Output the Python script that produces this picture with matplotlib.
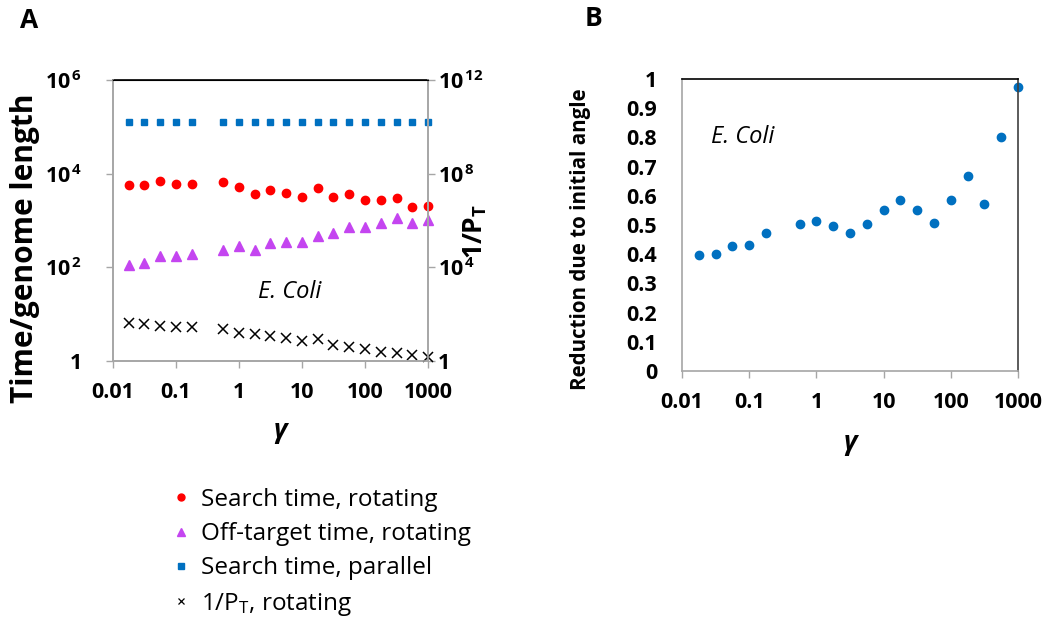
import matplotlib
matplotlib.use("Agg")
import matplotlib.pyplot as plt
from matplotlib.lines import Line2D
from matplotlib.ticker import FixedLocator, NullLocator

plt.rcParams['font.family'] = ['Open Sans', 'DejaVu Sans']
plt.rcParams['mathtext.fontset'] = 'custom'
plt.rcParams['mathtext.rm'] = 'Open Sans'
plt.rcParams['mathtext.bf'] = 'Open Sans:bold'
plt.rcParams['mathtext.it'] = 'Open Sans:italic'

# ---- data ----
gamma = [0.0178, 0.0316, 0.0562, 0.1, 0.178,
         0.562, 1.0, 1.78, 3.16, 5.62, 10.0, 17.8, 31.6, 56.2, 100.0, 178.0, 316.0, 562.0, 1000.0]
search_rot = [5650, 5650, 6980, 6030, 6030,
              6550, 5270, 3680, 4550, 3930, 3180, 4880, 3180, 3680, 2740, 2740, 2980, 1910, 2070]
offtarget_rot = [112, 122, 174, 174, 190,
                 234, 285, 234, 336, 352, 352, 473, 532, 738, 738, 898, 1114, 898, 1024]
search_par = [1.26e5] * 19
inv_pt = [40.8, 37.0, 32.3, 27.5, 27.5,
          23.3, 15.3, 13.8, 11.7, 9.9, 7.4, 8.7, 4.8, 4.1, 3.26, 2.5, 2.13, 1.8, 1.53]
reduction = [0.397, 0.402, 0.427, 0.432, 0.473,
             0.503, 0.512, 0.497, 0.473, 0.503, 0.552, 0.587, 0.552, 0.507, 0.587, 0.667, 0.572, 0.803, 0.971]

x_ticks = [0.01, 0.1, 1, 10, 100, 1000]
x_ticklabels = ['0.01', '0.1', '1', '10', '100', '1000']
left_ticks = [1, 1e2, 1e4, 1e6]
left_ticklabels = ['1', r'$\mathbf{10^{\,2}}$', r'$\mathbf{10^{\,4}}$', r'$\mathbf{10^{\,6}}$']
right_ticks = [1, 1e4, 1e8, 1e12]
right_ticklabels = ['1', r'$\mathbf{10^{\,4}}$', r'$\mathbf{10^{\,8}}$', r'$\mathbf{10^{\,12}}$']
b_yticks = [0, 0.1, 0.2, 0.3, 0.4, 0.5, 0.6, 0.7, 0.8, 0.9, 1.0]
b_yticklabels = ['0', '0.1', '0.2', '0.3', '0.4', '0.5', '0.6', '0.7', '0.8', '0.9', '1']

RED = '#FF0000'
PURPLE = '#C445F0'
BLUE = '#0070C0'
GRAY = '#A6A6A6'

fig = plt.figure(figsize=(10.44, 6.27), dpi=100)

TICK_FS = 15.5

def style_xaxis(ax):
    ax.set_xscale('log')
    ax.set_xlim(0.01, 1000)
    ax.xaxis.set_major_locator(FixedLocator(x_ticks))
    ax.xaxis.set_minor_locator(NullLocator())
    ax.set_xticklabels(x_ticklabels, fontsize=TICK_FS, fontweight='bold')
    ax.tick_params(axis='x', direction='out', length=5, color=GRAY, width=1, pad=10)

# ---- Panel A ----
axA = fig.add_axes([0.1082, 0.4242, 0.3018, 0.4482])
style_xaxis(axA)
axA.set_yscale('log')
axA.set_ylim(1, 1e6)
axA.yaxis.set_major_locator(FixedLocator(left_ticks))
axA.yaxis.set_minor_locator(NullLocator())
axA.set_yticklabels(left_ticklabels, fontsize=TICK_FS, fontweight='bold')
axA.tick_params(axis='y', direction='out', length=5, color=GRAY, width=1, pad=17)
for s in ['left', 'bottom', 'right']:
    axA.spines[s].set_color(GRAY)
    axA.spines[s].set_linewidth(1.2)
axA.spines['top'].set_color('black')
axA.spines['top'].set_linewidth(1.2)

axA.plot(gamma, search_rot, linestyle='none', marker='o', ms=6, color=RED, clip_on=False)
axA.plot(gamma, offtarget_rot, linestyle='none', marker='^', ms=7, color=PURPLE, clip_on=False)
axA.plot(gamma, search_par, linestyle='none', marker='s', ms=5, color=BLUE, clip_on=False)
axA.set_ylabel('Time/genome length', fontsize=21.5, fontweight='bold')
axA.yaxis.set_label_coords(-0.232, 0.40)
axA.set_xlabel('γ', fontsize=19, fontstyle='italic', fontweight='bold')
axA.xaxis.set_label_coords(0.53, -0.20)
axA.text(0.56, 0.245, 'E. Coli', transform=axA.transAxes, fontsize=17, fontstyle='italic',
         ha='center', va='center')

axR = axA.twinx()
axR.set_yscale('log')
axR.set_ylim(1, 1e12)
axR.yaxis.set_major_locator(FixedLocator(right_ticks))
axR.yaxis.set_minor_locator(NullLocator())
axR.set_yticklabels(right_ticklabels, fontsize=TICK_FS, fontweight='bold')
axR.tick_params(axis='y', direction='out', length=5, color=GRAY, width=1, pad=2)
for s in ['left', 'bottom', 'right']:
    axR.spines[s].set_color(GRAY)
    axR.spines[s].set_linewidth(1.2)
axR.spines['top'].set_color('black')
axR.plot(gamma, inv_pt, linestyle='none', marker='x', ms=7, mew=1.1, color='black', clip_on=False)
axR.set_ylabel(r'1/P$_\mathbf{T}$', fontsize=19, fontweight='bold', rotation=90)
axR.yaxis.set_label_coords(1.108, 0.46)

fig.text(20 / 1044, 1 - 20 / 627, 'A', fontsize=19, fontweight='bold', ha='left', va='center')

# legend
handles = [
    Line2D([], [], linestyle='none', marker='o', ms=5, color=RED),
    Line2D([], [], linestyle='none', marker='^', ms=6, color=PURPLE),
    Line2D([], [], linestyle='none', marker='s', ms=5, color=BLUE),
    Line2D([], [], linestyle='none', marker='x', ms=5, mew=0.9, color='black'),
]
labels = ['Search time, rotating', 'Off-target time, rotating', 'Search time, parallel',
          r'1/P$_\mathrm{T}$, rotating']
fig.legend(handles, labels, loc='upper left', bbox_to_anchor=(152 / 1044, 1 - 466 / 627),
           frameon=False, fontsize=17.5, handlelength=0.6, handletextpad=0.5, labelspacing=0.42)

# ---- Panel B ----
axB = fig.add_axes([0.6533, 0.4083, 0.3218, 0.4657])
style_xaxis(axB)
axB.set_ylim(0, 1)
axB.yaxis.set_major_locator(FixedLocator(b_yticks))
axB.set_yticklabels(b_yticklabels, fontsize=TICK_FS, fontweight='bold')
axB.tick_params(axis='y', length=0, pad=18)
axB.spines['left'].set_color(GRAY)
axB.spines['bottom'].set_color(GRAY)
axB.spines['left'].set_linewidth(1.2)
axB.spines['bottom'].set_linewidth(1.2)
axB.spines['top'].set_color('black')
axB.spines['right'].set_color('#404040')
axB.spines['top'].set_linewidth(1.2)
axB.spines['right'].set_linewidth(1.2)
axB.plot(gamma, reduction, linestyle='none', marker='o', ms=6, color=BLUE, clip_on=False)
axB.set_ylabel('Reduction due to initial angle', fontsize=14.8, fontweight='bold')
axB.yaxis.set_label_coords(-0.27, 0.452)
axB.set_xlabel('γ', fontsize=19, fontstyle='italic', fontweight='bold')
axB.xaxis.set_label_coords(0.5, -0.20)
axB.text(0.18, 0.80, 'E. Coli', transform=axB.transAxes, fontsize=17, fontstyle='italic',
         ha='center', va='center')
fig.text(585 / 1044, 1 - 19 / 627, 'B', fontsize=19, fontweight='bold', ha='left', va='center')

fig.savefig('out.png', dpi=100)
